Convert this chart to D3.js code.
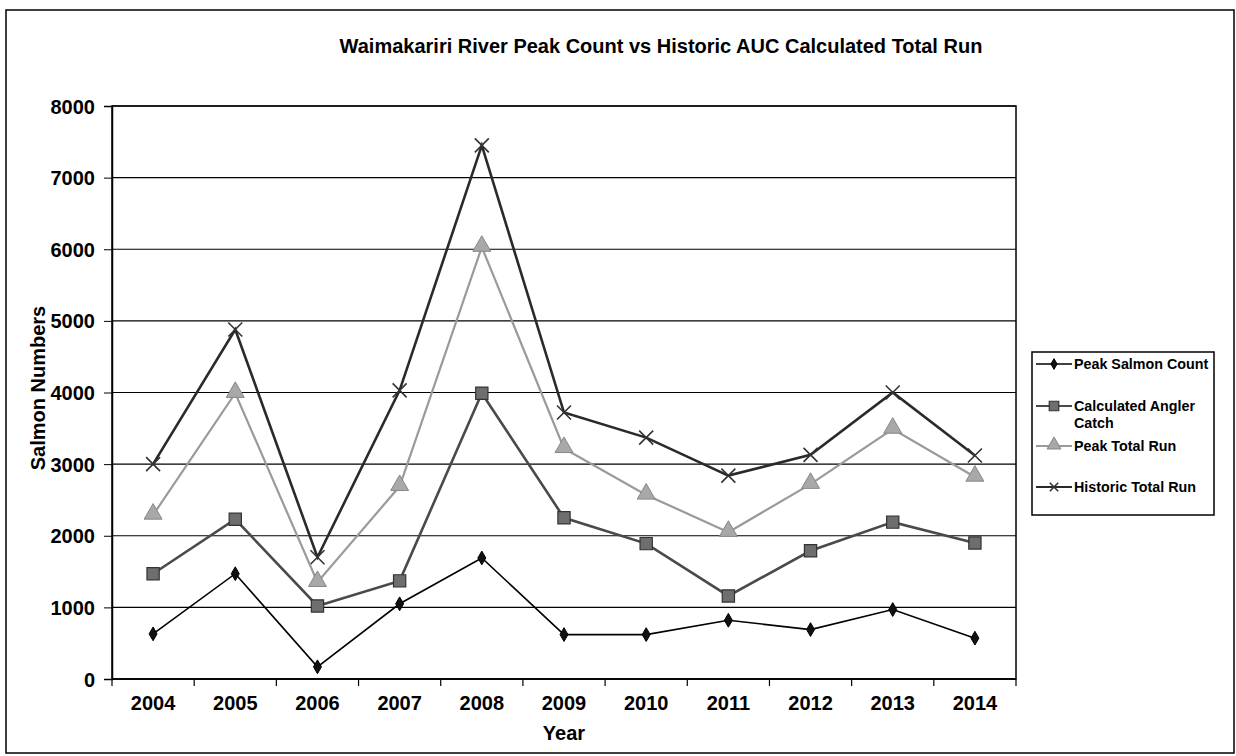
<!DOCTYPE html>
<html>
<head>
<meta charset="utf-8">
<script src="https://cdn.jsdelivr.net/npm/d3@7"></script>
<style>
  body { margin: 0; background: #fff; }
  text { font-family: "Liberation Sans", Arial, sans-serif; font-weight: bold; fill: #000; }
</style>
</head>
<body>
<div id="chart"></div>
<script>
// data
var years = ["2004","2005","2006","2007","2008","2009","2010","2011","2012","2013","2014"];
var peakSalmonCount = [630, 1470, 170, 1050, 1690, 620, 620, 820, 690, 970, 570];
var anglerCatch     = [1470, 2230, 1020, 1370, 3990, 2250, 1890, 1160, 1790, 2190, 1900];
var peakTotalRun    = [2290, 3990, 1350, 2690, 6030, 3220, 2570, 2050, 2720, 3490, 2820];
var historicRun     = [3000, 4880, 1700, 4030, 7450, 3720, 3370, 2840, 3130, 4000, 3120];
var yTicks = [0, 1000, 2000, 3000, 4000, 5000, 6000, 7000, 8000];

var series = [
    {name: "Peak Salmon Count", values: peakSalmonCount, line: "#000", lw: 1.6, marker: "diamond"},
    {name: "Calculated Angler|Catch", values: anglerCatch, line: "#4a4a4a", lw: 2.6, marker: "square"},
    {name: "Peak Total Run", values: peakTotalRun, line: "#9a9a9a", lw: 2.2, marker: "triangle"},
    {name: "Historic Total Run", values: historicRun, line: "#2a2a2a", lw: 2.6, marker: "x"}
];

var W = 1236, H = 756;
var plot = {left: 112, right: 1016, top: 106, bottom: 679};

var svg = d3.select("#chart").append("svg")
    .attr("width", W).attr("height", H);

// outer frame
svg.append("rect").attr("x", 6).attr("y", 10).attr("width", 1228).attr("height", 743)
    .attr("fill", "none").attr("stroke", "#000").attr("stroke-width", 1.5);

var x = d3.scaleBand().domain(years).range([plot.left, plot.right]).padding(0);
var y = d3.scaleLinear().domain([0, 8000]).range([plot.bottom, plot.top]);
function cx(i) { return x(years[i]) + x.bandwidth() / 2; }

// gridlines
svg.append("g").selectAll("line").data(yTicks).enter().append("line")
    .attr("x1", plot.left).attr("x2", plot.right)
    .attr("y1", function(d) { return y(d); }).attr("y2", function(d) { return y(d); })
    .attr("stroke", "#000").attr("stroke-width", 1.2);

// plot border
svg.append("rect").attr("x", plot.left).attr("y", plot.top)
    .attr("width", plot.right - plot.left).attr("height", plot.bottom - plot.top)
    .attr("fill", "none").attr("stroke", "#000").attr("stroke-width", 1.5);

// y axis
var yAxis = svg.append("g").attr("transform", "translate(" + plot.left + ",0)")
    .call(d3.axisLeft(y).tickValues(yTicks).tickFormat(d3.format("d")).tickSize(8).tickPadding(9));
yAxis.select(".domain").attr("stroke", "#000").attr("stroke-width", 1.5);
yAxis.selectAll("text").style("font-size", "20px").attr("dy", "0.35em");

// x axis - ticks at category boundaries
var xAxis = svg.append("g").attr("transform", "translate(0," + plot.bottom + ")");
xAxis.append("line").attr("x1", plot.left).attr("x2", plot.right).attr("stroke", "#000").attr("stroke-width", 1.5);
var bounds = years.map(function(d) { return x(d); }).concat([plot.right]);
xAxis.selectAll(".tk").data(bounds).enter().append("line")
    .attr("x1", function(d) { return d; }).attr("x2", function(d) { return d; })
    .attr("y1", 0).attr("y2", 7).attr("stroke", "#000").attr("stroke-width", 1.2);
xAxis.selectAll(".lbl").data(years).enter().append("text")
    .attr("x", function(d) { return x(d) + x.bandwidth() / 2; })
    .attr("y", 31).attr("text-anchor", "middle").style("font-size", "20px")
    .text(function(d) { return d; });

// titles
svg.append("text").attr("x", 661).attr("y", 53).attr("text-anchor", "middle")
    .style("font-size", "20px").text("Waimakariri River Peak Count vs Historic AUC Calculated Total Run");
svg.append("text").attr("x", 564).attr("y", 740).attr("text-anchor", "middle")
    .style("font-size", "20px").text("Year");
svg.append("text").attr("transform", "translate(45,388) rotate(-90)").attr("text-anchor", "middle")
    .style("font-size", "20px").text("Salmon Numbers");

// markers
function drawMarker(g, type, px, py, s) {
    s = s || 1;
    if (type === "diamond") {
        g.append("path").attr("d", d3.symbol().type(d3.symbolDiamond).size(55 * s)())
            .attr("transform", "translate(" + px + "," + py + ")")
            .attr("fill", "#111").attr("stroke", "#000").attr("stroke-width", 1);
    } else if (type === "square") {
        g.append("path").attr("d", d3.symbol().type(d3.symbolSquare).size(150 * s)())
            .attr("transform", "translate(" + px + "," + py + ")")
            .attr("fill", "#6e6e6e").attr("stroke", "#333").attr("stroke-width", 1.2);
    } else if (type === "triangle") {
        g.append("path").attr("d", d3.symbol().type(d3.symbolTriangle).size(140 * s)())
            .attr("transform", "translate(" + px + "," + (py - 1) + ")")
            .attr("fill", "#a8a8a8").attr("stroke", "#888").attr("stroke-width", 1);
    } else {
        var r = 7 * s;
        g.append("path").attr("d", "M" + (-r) + "," + (-r) + "L" + r + "," + r + "M" + (-r) + "," + r + "L" + r + "," + (-r))
            .attr("transform", "translate(" + px + "," + py + ")")
            .attr("fill", "none").attr("stroke", "#333").attr("stroke-width", 1.6);
    }
}

var line = d3.line()
    .x(function(d, i) { return cx(i); })
    .y(function(d) { return y(d); });

// draw in reverse order so Peak Salmon Count sits on top
series.slice().reverse().forEach(function(s) {
    var g = svg.append("g");
    g.append("path").datum(s.values).attr("d", line)
        .attr("fill", "none").attr("stroke", s.line).attr("stroke-width", s.lw);
    s.values.forEach(function(v, i) { drawMarker(g, s.marker, cx(i), y(v)); });
});

// legend
var leg = svg.append("g");
leg.append("rect").attr("x", 1032).attr("y", 352).attr("width", 182).attr("height", 163)
    .attr("fill", "#fff").attr("stroke", "#000").attr("stroke-width", 1.5);
var legY = [364, 406, 446, 487];
series.forEach(function(s, i) {
    var ly = legY[i];
    leg.append("line").attr("x1", 1036).attr("x2", 1072).attr("y1", ly).attr("y2", ly)
        .attr("stroke", s.line).attr("stroke-width", s.lw * 0.8);
    drawMarker(leg, s.marker, 1054, ly, 0.6);
    s.name.split("|").forEach(function(t, j) {
        leg.append("text").attr("x", 1074).attr("y", ly + 5 + j * 17)
            .style("font-size", "14.3px").text(t);
    });
});
</script>
</body>
</html>
